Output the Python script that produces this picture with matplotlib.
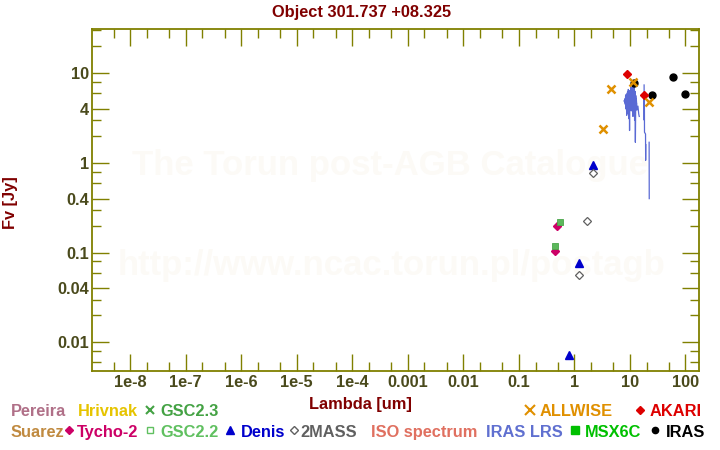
import numpy as np
import matplotlib
matplotlib.use("Agg")
import matplotlib.pyplot as plt
from matplotlib.transforms import IdentityTransform
from matplotlib.lines import Line2D
from matplotlib.ticker import FixedLocator, FixedFormatter, NullFormatter

plt.rcParams['font.family'] = ['Liberation Sans', 'DejaVu Sans']
plt.rcParams['font.weight'] = 'bold'

# ---------------- data ----------------
title = "Object 301.737 +08.325"
xlabel = "Lambda [um]"
ylabel = "Fv [Jy]"

allwise_wave = [3.35, 4.6, 11.6, 22.1]
allwise_flux = [2.38, 6.6, 7.94, 4.75]
akari_wave = [9.0, 18.0]
akari_flux = [9.75, 5.7]
iras_wave = [12.0, 25.0, 60.0, 100.0]
iras_flux = [7.7, 5.7, 9.0, 5.8]
denis_wave = [0.79, 1.22, 2.15]
denis_flux = [0.0072, 0.076, 0.95]
tmass_wave = [1.235, 1.662, 2.159]
tmass_flux = [0.056, 0.224, 0.78]
tycho_wave = [0.44, 0.49]
tycho_flux = [0.104, 0.20]
gsc22_wave = [0.44, 0.56]
gsc22_flux = [0.118, 0.218]

lrs_wave = [7.9, 8.0, 8.1, 8.2, 8.3, 8.4, 8.5, 8.6, 8.7, 8.8, 8.9, 9.0, 9.1, 9.2,
            9.3, 9.4, 9.5, 9.6, 9.7, 9.8, 9.9, 10.0, 10.2, 10.4, 10.6, 10.8, 11.0,
            11.2, 11.4, 11.6, 11.8, 12.0, 12.2, 12.4, 12.6, 12.8, 13.0, 13.2,
            np.nan,
            11.0, 11.5, 12.0, 12.5, 13.0, 13.5, 14.0, 14.5, 14.8,
            np.nan,
            18.1, 18.2, 18.3, 18.4, 19.2, 19.3, 19.4,
            np.nan,
            22.3, 22.4]
lrs_flux = [4.9, 5.0, 4.7, 5.2, 4.5, 5.6, 4.0, 5.8, 4.4, 3.4, 5.9, 4.8, 6.2, 3.6,
            5.5, 6.6, 4.2, 6.0, 3.1, 5.4, 2.3, 6.4, 4.6, 7.0, 3.8, 6.8, 4.1,
            7.4, 3.3, 7.8, 4.9, 7.2, 3.0, 6.3, 1.7, 5.2, 3.9, 4.6,
            np.nan,
            6.2, 5.0, 6.6, 4.4, 5.6, 3.9, 4.3, 3.5, 3.3,
            np.nan,
            7.4, 3.0, 5.5, 2.2, 2.1, 1.07, 1.6,
            np.nan,
            1.7, 0.40]

xtick_values = [1e-8, 1e-7, 1e-6, 1e-5, 1e-4, 1e-3, 1e-2, 1e-1, 1, 10, 100]
xtick_labels = ["1e-8", "1e-7", "1e-6", "1e-5", "1e-4", "0.001", "0.01", "0.1", "1", "10", "100"]
ytick_values = [0.01, 0.04, 0.1, 0.4, 1, 4, 10]
ytick_labels = ["0.01", "0.04", "0.1", "0.4", "1", "4", "10"]

# legend rows: (text, color, x_left, marker spec)
legend_row1 = [("Pereira", "#b07088", 11, None),
               ("Hrivnak", "#e6c400", 78.3, None),
               ("GSC2.3", "#44a244", 160, ("x", 150.3, 5.5, "#44a244", True)),
               ("ALLWISE", "#e09000", 540, ("x", 529.8, 6.5, "#e09000", True)),
               ("AKARI", "#dd0000", 650, ("D", 640.3, 4.0, "#dd0000", True))]
legend_row2 = [("Suarez", "#c08a40", 11, None),
               ("Tycho-2", "#cc0066", 77.3, ("D", 69.3, 3.8, "#cc0066", True)),
               ("GSC2.2", "#60c060", 160, ("s", 150.3, 4.0, "#60c060", False)),
               ("Denis", "#0000cc", 240.7, ("^", 230.3, 6.0, "#0000cc", True)),
               ("2MASS", "#606060", 300, ("D", 293.8, 3.6, "#606060", False)),
               ("ISO spectrum", "#e07060", 370.7, None),
               ("IRAS LRS", "#6070d0", 485.7, None),
               ("MSX6C", "#00c000", 585, ("s", 575.3, 5.5, "#00c000", True)),
               ("IRAS", "#000000", 665.7, ("o", 654.7, 4.5, "#000000", True))]

# ---------------- figure ----------------
W, H = 720, 450
fig = plt.figure(figsize=(7.2, 4.5), dpi=100)
fig.patch.set_facecolor("white")

axl, axr, axt, axb = 92.3, 699.3, 29.3, 371.0
ax = fig.add_axes([axl / W, 1 - axb / H, (axr - axl) / W, (axb - axt) / H])
ax.set_xscale("log")
ax.set_yscale("log")
ax.set_xlim(2.07e-9, 178.7)
ax.set_ylim(0.00479, 30.9)

olive = "#808000"
ticklab = "#4a4a1c"
for s in ax.spines.values():
    s.set_color(olive)
    s.set_linewidth(1.3)

ax.xaxis.set_major_locator(FixedLocator(xtick_values))
ax.xaxis.set_major_formatter(FixedFormatter(xtick_labels))
xminor = [k * 10.0 ** e for e in range(-10, 3) for k in (2, 5)]
ax.xaxis.set_minor_locator(FixedLocator(xminor))
ax.xaxis.set_minor_formatter(NullFormatter())
ax.yaxis.set_major_locator(FixedLocator(ytick_values))
ax.yaxis.set_major_formatter(FixedFormatter(ytick_labels))
yminor = [k * 10.0 ** e for e in range(-4, 2) for k in (2, 3, 6, 8)]
ax.yaxis.set_minor_locator(FixedLocator(yminor))
ax.yaxis.set_minor_formatter(NullFormatter())

ax.tick_params(which="both", direction="in", top=True, right=True,
               color=olive, labelcolor=ticklab, labelsize=11.8)
ax.tick_params(which="major", length=12.5, width=1.0)
ax.tick_params(which="minor", length=6.7, width=1.0)
ax.tick_params(axis="x", which="major", pad=3)
ax.tick_params(axis="y", which="major", pad=2.2)

# watermark
ax.text(389.5, H - 175, "The Torun post-AGB Catalogue", transform=IdentityTransform(),
        ha="center", va="baseline", fontsize=25, color="#fcfaf6", zorder=0)
ax.text(391.7, H - 275, "http://www.ncac.torun.pl/postagb", transform=IdentityTransform(),
        ha="center", va="baseline", fontsize=25, color="#fcfaf6", zorder=0)

# data
ax.plot(lrs_wave, lrs_flux, color="#5a6ad4", lw=0.9, zorder=2)
ax.plot(iras_wave, iras_flux, ls="none", marker="o", ms=5.0, color="black", zorder=3)
ax.plot(akari_wave, akari_flux, ls="none", marker="D", ms=4.2, color="#dd0000", zorder=4)
ax.plot(allwise_wave, allwise_flux, ls="none", marker="x", ms=5.8, mew=1.8,
        color="#e09000", zorder=5)
ax.plot(gsc22_wave, gsc22_flux, ls="none", marker="s", ms=4.8, color="#5cb85c",
        mec="#4aa64a", mew=0.6, zorder=3)
ax.plot(tycho_wave, tycho_flux, ls="none", marker="D", ms=3.6, color="#cc0066", zorder=2.9)
ax.plot(denis_wave, denis_flux, ls="none", marker="^", ms=5.5, color="#0000cc", zorder=3)
ax.plot(tmass_wave, tmass_flux, ls="none", marker="D", ms=4.0, mfc="white",
        mec="#606060", mew=0.9, zorder=3)

# texts
fig.text(361.5, H - 16.5, title, transform=IdentityTransform(), ha="center",
         va="baseline", fontsize=11.8, color="#800000")
fig.text(360.5, H - 409.5, xlabel, transform=IdentityTransform(), ha="center",
         va="baseline", fontsize=11.8, color="#800000")
fig.text(10, H - 203, ylabel, transform=IdentityTransform(), ha="center",
         va="center", rotation=90, fontsize=11.8, color="#800000")

for row, base, mc in ((legend_row1, 415.7, 410.0), (legend_row2, 436.7, 430.0)):
    for txt, col, xl, mk in row:
        fig.text(xl, H - base, txt, transform=IdentityTransform(), ha="left",
                 va="baseline", fontsize=11.8, color=col)
        if mk is not None:
            m, mx, ms, mcol, filled = mk
            kw = dict(marker=m, markersize=ms, transform=IdentityTransform(), ls="none")
            if m == "x":
                kw.update(color=mcol, mew=1.5)
            elif filled:
                kw.update(color=mcol, mec=mcol)
            else:
                kw.update(mfc="white", mec=mcol, mew=1.0)
            fig.add_artist(Line2D([mx], [H - mc], **kw))

fig.savefig("out.png", dpi=100, facecolor="white")
